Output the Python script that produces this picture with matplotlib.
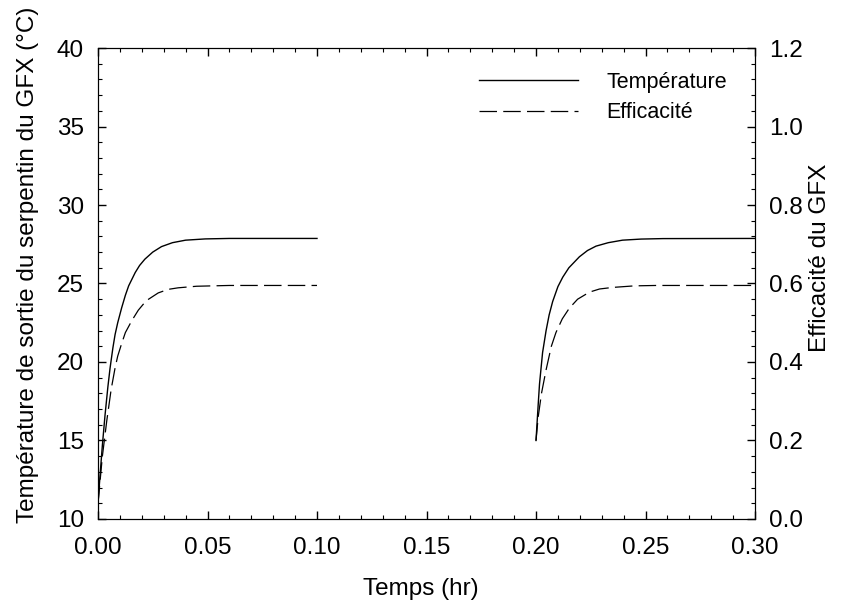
import matplotlib
matplotlib.use("Agg")
import matplotlib.pyplot as plt
from matplotlib.ticker import MultipleLocator

plt.rcParams['font.family'] = ['Liberation Sans', 'DejaVu Sans']

# first run (0 - 0.10 hr)
t1 = [0.000, 0.001, 0.002, 0.0032, 0.0045, 0.0055, 0.0068, 0.0078, 0.009, 0.0108,
      0.0125, 0.014, 0.017, 0.019, 0.0214, 0.025, 0.029, 0.034, 0.040, 0.049, 0.060, 0.100]
temp1 = [11.0, 12.9, 14.7, 16.6, 18.4, 19.6, 20.9, 21.75, 22.5, 23.45,
         24.25, 24.85, 25.7, 26.15, 26.55, 27.0, 27.35, 27.6, 27.76, 27.84, 27.87, 27.87]
te1 = [0.000, 0.002, 0.004, 0.006, 0.0078, 0.009, 0.0108, 0.0125, 0.0154, 0.0184,
       0.022, 0.0275, 0.032, 0.0366, 0.045, 0.060, 0.100]
eff1 = [0.04, 0.16, 0.25, 0.33, 0.385, 0.415, 0.447, 0.475, 0.505, 0.532,
        0.556, 0.576, 0.585, 0.589, 0.593, 0.595, 0.595]

# second run (0.20 - 0.30 hr)
t2 = [0.200, 0.201, 0.2016, 0.203, 0.2046, 0.206, 0.2076, 0.210, 0.2122, 0.215,
      0.2198, 0.2235, 0.2274, 0.233, 0.2395, 0.248, 0.258, 0.300]
temp2 = [15.0, 17.3, 18.6, 20.6, 22.0, 23.0, 23.85, 24.8, 25.4, 26.0,
         26.7, 27.1, 27.38, 27.6, 27.76, 27.83, 27.86, 27.87]
te2 = [0.200, 0.201, 0.2025, 0.2046, 0.207, 0.2091, 0.212, 0.2152, 0.219, 0.2244,
       0.229, 0.235, 0.245, 0.255, 0.300]
eff2 = [0.20, 0.26, 0.32, 0.38, 0.44, 0.475, 0.51, 0.537, 0.56, 0.578,
        0.586, 0.59, 0.594, 0.595, 0.595]

fig, ax = plt.subplots(figsize=(8.47, 6.10), dpi=100)
fig.subplots_adjust(left=0.1157, right=0.8914, top=0.9213, bottom=0.1492)
ax2 = ax.twinx()

l1, = ax.plot(t1, temp1, color='black', lw=1.0, label='Température')
ax.plot(t2, temp2, color='black', lw=1.0)
dash = (14, 5)
l2, = ax2.plot(te1, eff1, color='black', lw=0.9, dashes=dash, label='Efficacité')
ax2.plot(te2, eff2, color='black', lw=0.9, dashes=dash)

ax.set_xlim(0, 0.30)
ax.set_ylim(10, 40)
ax2.set_ylim(0, 1.2)

ax.xaxis.set_major_locator(MultipleLocator(0.05))
ax.xaxis.set_minor_locator(MultipleLocator(0.01))
ax.yaxis.set_major_locator(MultipleLocator(5))
ax.yaxis.set_minor_locator(MultipleLocator(1))
ax2.yaxis.set_major_locator(MultipleLocator(0.2))
ax2.yaxis.set_minor_locator(MultipleLocator(0.04))
ax.xaxis.set_major_formatter(plt.FuncFormatter(lambda v, p: f"{v:.2f}"))
ax2.yaxis.set_major_formatter(plt.FuncFormatter(lambda v, p: f"{v:.1f}"))

ax.tick_params(axis='x', which='both', direction='in', top=True, labelsize=17.5, pad=13)
ax.tick_params(axis='y', which='both', direction='in', labelsize=17.5, pad=10)
ax2.tick_params(axis='y', which='both', direction='in', labelsize=17.5, pad=10)
for a in (ax, ax2):
    a.tick_params(which='major', length=6, width=1)
    a.tick_params(which='minor', length=3, width=0.8)

ax.set_xlabel('Temps (hr)', fontsize=17.5)
ax.set_ylabel('Température de sortie du serpentin du GFX (°C)', fontsize=17.5)
ax2.set_ylabel('Efficacité du GFX', fontsize=17.5)
ax.xaxis.set_label_coords(0.491, -0.125)
ax.yaxis.set_label_coords(-0.09, 0.54)
ax2.yaxis.set_label_coords(1.082, 0.555)

ax.legend(handles=[l1, l2], loc='upper left', bbox_to_anchor=(0.58, 0.95),
          frameon=False, fontsize=15.5, handlelength=4.6, handletextpad=1.3,
          borderpad=0, borderaxespad=0, labelspacing=0.45)

fig.savefig('out.png', dpi=100)
